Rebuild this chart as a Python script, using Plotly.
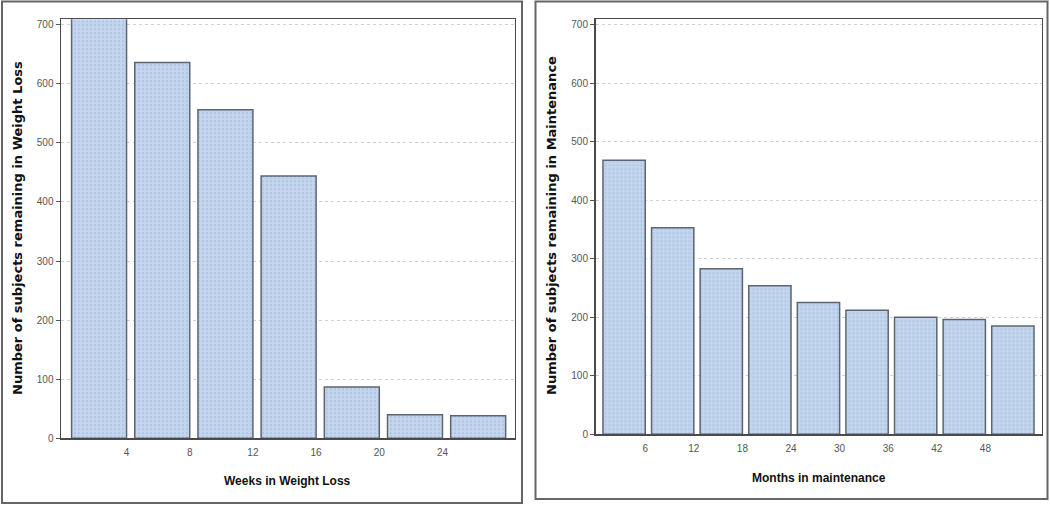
import plotly.graph_objects as go

# ---- data ----
weeks_end = [4, 8, 12, 16, 20, 24, 28]
weeks_counts = [712, 636, 556, 444, 87, 40, 38]
weeks_ticks = [4, 8, 12, 16, 20, 24]

months_end = [6, 12, 18, 24, 30, 36, 42, 48, 54]
months_counts = [468, 353, 283, 254, 225, 212, 200, 196, 185]
months_ticks = [6, 12, 18, 24, 30, 36, 42, 48]

y_ticks = [0, 100, 200, 300, 400, 500, 600, 700]

W, H = 1050, 511
REF_H = 505
BAR_RATIO = 0.87
fill = "#c3d6ee"
edge = "#5c6570"
tick_font = dict(family="Liberation Sans Narrow, Arial Narrow, Liberation Sans, Arial", size=10, color="#555555")
title_font = dict(family="DejaVu Sans, Verdana, sans-serif", size=13, color="#111111")
xtitle_font = dict(family="Liberation Sans Narrow, Arial Narrow, Liberation Sans, Arial", size=12, color="#111111")

fig = go.Figure()

w1 = 4 * BAR_RATIO
fig.add_trace(go.Bar(
    x=weeks_end, y=weeks_counts, width=w1, offset=-w1,
    marker=dict(color=fill, line=dict(color=edge, width=1.5),
                pattern=dict(shape=".", fgcolor="#9cb3d6", bgcolor=fill, size=4, solidity=0.25)),
    xaxis="x", yaxis="y", showlegend=False, hoverinfo="skip"))

w2 = 6 * BAR_RATIO
fig.add_trace(go.Bar(
    x=months_end, y=months_counts, width=w2, offset=-w2,
    marker=dict(color=fill, line=dict(color=edge, width=1.5),
                pattern=dict(shape=".", fgcolor="#9cb3d6", bgcolor=fill, size=4, solidity=0.25)),
    xaxis="x2", yaxis="y2", showlegend=False, hoverinfo="skip"))

def px_x(p):
    return p / W

def px_y(p):
    return (REF_H - p) / REF_H

common_y = dict(
    range=[0, 709], tickvals=y_ticks, ticks="outside", ticklen=4, tickcolor="#555555",
    tickfont=tick_font, showgrid=True, gridcolor="#d0d0d0", griddash="dot", gridwidth=1,
    zeroline=False, showline=True, mirror=True, linecolor="#4a4a4a", linewidth=1.5,
)
common_x = dict(
    ticks="", tickfont=tick_font, showgrid=False, zeroline=False,
    showline=True, mirror=True, linecolor="#4a4a4a", linewidth=1.5, ticklabelstandoff=4,
)

fig.update_layout(
    width=W, height=H, autosize=False, margin=dict(l=0, r=0, t=0, b=0),
    paper_bgcolor="white", plot_bgcolor="white", bargap=0,
    xaxis=dict(domain=[px_x(61), px_x(514.5)], range=[-0.15, 28.56], tickvals=weeks_ticks,
               anchor="y", **common_x),
    yaxis=dict(domain=[px_y(438.3), px_y(19.3)], anchor="x", **common_y),
    xaxis2=dict(domain=[px_x(595.5), px_x(1041.7)], range=[-0.14, 54.95], tickvals=months_ticks,
                anchor="y2", **common_x),
    yaxis2=dict(domain=[px_y(434.3), px_y(19.3)], anchor="x2", **common_y),
)

# outer panel frames
for x0, x1, y0, y1 in [(2, 522, 1.5, 503), (535.5, 1047.5, 1.5, 499)]:
    fig.add_shape(type="rect", xref="paper", yref="paper",
                  x0=px_x(x0), x1=px_x(x1), y0=px_y(y1), y1=px_y(y0),
                  line=dict(color="#666666", width=2), fillcolor="rgba(0,0,0,0)")

# axis titles
fig.add_annotation(text="<b>Weeks in Weight Loss</b>", xref="paper", yref="paper",
                   x=px_x(287), y=px_y(481), showarrow=False, font=xtitle_font,
                   xanchor="center", yanchor="middle")
fig.add_annotation(text="<b>Months in maintenance</b>", xref="paper", yref="paper",
                   x=px_x(819), y=px_y(478), showarrow=False, font=xtitle_font,
                   xanchor="center", yanchor="middle")
fig.add_annotation(text="<b>Number of subjects remaining in Weight Loss</b>", xref="paper", yref="paper",
                   x=px_x(18), y=px_y(228), showarrow=False, font=title_font, textangle=-90,
                   xanchor="center", yanchor="middle")
fig.add_annotation(text="<b>Number of subjects remaining in Maintenance</b>", xref="paper", yref="paper",
                   x=px_x(552), y=px_y(226), showarrow=False, font=title_font, textangle=-90,
                   xanchor="center", yanchor="middle")

post = (
    "var h=document.documentElement, b=document.body;"
    "h.style.margin='0';h.style.padding='0';h.style.overflow='hidden';"
    "b.style.margin='0';b.style.padding='0';b.style.overflow='hidden';"
)
fig.write_html("out.html",
               config=dict(displayModeBar=False, responsive=False, staticPlot=True),
               post_script=post)
